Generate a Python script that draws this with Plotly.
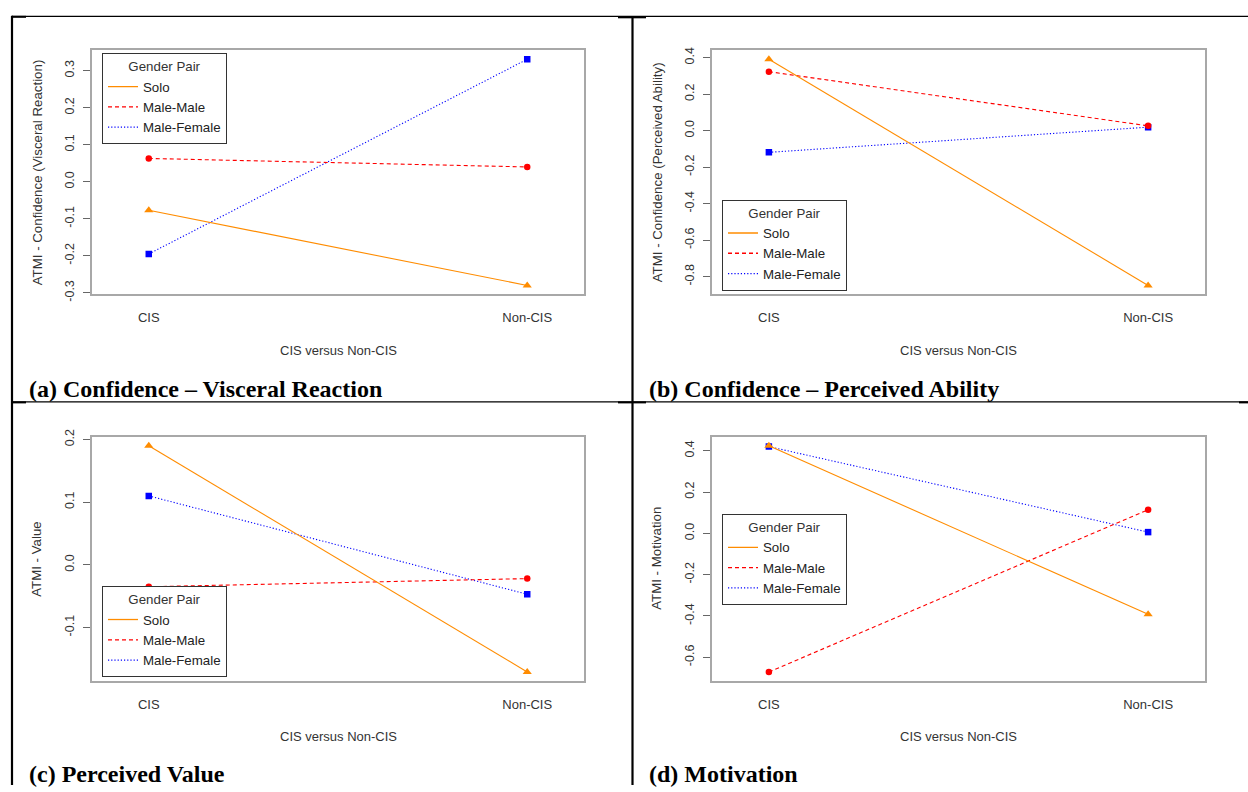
import plotly.graph_objects as go

categories = ["CIS", "Non-CIS"]
groups = ["Solo", "Male-Male", "Male-Female"]

a_solo = [-0.077, -0.280]
a_mm = [0.063, 0.040]
a_mf = [-0.195, 0.331]

b_solo = [0.391, -0.848]
b_mm = [0.323, 0.026]
b_mf = [-0.119, 0.019]

c_solo = [0.190, -0.171]
c_mm = [-0.035, -0.022]
c_mf = [0.110, -0.047]

d_solo = [0.424, -0.392]
d_mm = [-0.671, 0.114]
d_mf = [0.420, 0.006]

a_ticks = ["-0.3", "-0.2", "-0.1", "0.0", "0.1", "0.2", "0.3"]
b_ticks = ["-0.8", "-0.6", "-0.4", "-0.2", "0.0", "0.2", "0.4"]
c_ticks = ["-0.1", "0.0", "0.1", "0.2"]
d_ticks = ["-0.6", "-0.4", "-0.2", "0.0", "0.2", "0.4"]

y_titles = ["ATMI - Confidence (Visceral Reaction)",
            "ATMI - Confidence (Perceived Ability)",
            "ATMI - Value",
            "ATMI - Motivation"]
captions = ["(a) Confidence \u2013 Visceral Reaction",
            "(b) Confidence \u2013 Perceived Ability",
            "(c) Perceived Value",
            "(d) Motivation"]
x_title = "CIS versus Non-CIS"
legend_title = "Gender Pair"

panels = [
    (a_solo, a_mm, a_mf, a_ticks),
    (b_solo, b_mm, b_mf, b_ticks),
    (c_solo, c_mm, c_mf, c_ticks),
    (d_solo, d_mm, d_mf, d_ticks),
]

W, H = 1248, 792
colors = ["#FF8C00", "#FF0000", "#0000FF"]
dashes = ["solid", "4px,3px", "1.2px,2px"]
symbols = ["triangle-up", "circle", "square"]
msizes = [8, 6.5, 6.5]

# pixel layout of plot boxes (left, right, top, bottom)
boxes = [(92, 584, 43, 292), (712, 1205, 43, 292),
         (92, 584, 437, 686), (712, 1205, 437, 686)]
# legend anchor: (left x, y, yanchor)
legend_pos = [(102, 46, "top"), (722, 288, "bottom"),
              (102, 682, "bottom"), (722, 562, "middle")]
caption_pos = [(27, 388), (647, 388), (27, 781), (647, 781)]

def px(x):
    return x / W

def py(y):
    return 1 - y / H

fig = go.Figure()
layout = {}
annotations = []
font_sans = "Liberation Sans, Arial, sans-serif"
font_serif = "Liberation Serif, Times New Roman, serif"

for i, (solo, mm, mf, ticks) in enumerate(panels):
    n = "" if i == 0 else str(i + 1)
    xa, ya = "x" + n, "y" + n
    leg = "legend" if i == 0 else "legend" + str(i + 1)
    series = [solo, mm, mf]
    # draw Male-Female first so Solo / Male-Male points sit on top
    for g in [2, 1, 0]:
        fig.add_trace(go.Scatter(
            x=categories, y=series[g], xaxis=xa, yaxis=ya,
            mode="lines+markers",
            line=dict(color=colors[g], width=1.1, dash=dashes[g]),
            marker=dict(symbol=symbols[g], size=msizes[g], color=colors[g]),
            showlegend=False, hoverinfo="skip"))
    for g in range(3):
        fig.add_trace(go.Scatter(
            x=[None], y=[None], xaxis=xa, yaxis=ya, mode="lines",
            name=groups[g], legend=leg,
            line=dict(color=colors[g], width=1.3, dash=dashes[g])))
    allv = solo + mm + mf
    lo, hi = min(allv), max(allv)
    span = hi - lo
    l, r, t, b = boxes[i]
    tickvals = [float(s) for s in ticks]
    layout["xaxis" + n] = dict(
        domain=[px(l), px(r)], anchor=ya, type="category",
        range=[-0.15, 1.15], showgrid=False, zeroline=False,
        showline=True, mirror=True, linecolor="#a8a8a8", linewidth=2,
        ticks="outside", ticklen=10, tickcolor="rgba(0,0,0,0)",
        tickfont=dict(family=font_sans, size=13, color="#333333"))
    layout["yaxis" + n] = dict(
        domain=[py(b), py(t)], anchor=xa,
        range=[lo - 0.04 * span, hi + 0.04 * span],
        showgrid=False, zeroline=False,
        showline=True, mirror=True, linecolor="#a8a8a8", linewidth=2,
        ticks="outside", ticklen=7, tickcolor="#666666", tickwidth=1,
        tickvals=tickvals, ticktext=ticks, tickangle=-90,
        ticklabelstandoff=4,
        tickfont=dict(family=font_sans, size=12.5, color="#333333"))
    lx, ly, yanc = legend_pos[i]
    layout[leg] = dict(
        x=px(lx), y=py(ly), xanchor="left", yanchor=yanc,
        bgcolor="white", bordercolor="#333333", borderwidth=1,
        title=dict(text=legend_title, side="top center",
                   font=dict(family=font_sans, size=13.3, color="#333333")),
        font=dict(family=font_sans, size=13.3, color="#222222"),
        tracegroupgap=0)
    annotations.append(dict(
        x=px(l - 55), y=py((t + b) / 2), xref="paper", yref="paper",
        text=y_titles[i], textangle=-90, showarrow=False,
        xanchor="center", yanchor="middle",
        font=dict(family=font_sans, size=13.3, color="#333333")))
    annotations.append(dict(
        x=px((l + r) / 2), y=py(b + 57), xref="paper", yref="paper",
        text=x_title, showarrow=False, xanchor="center", yanchor="middle",
        font=dict(family=font_sans, size=13, color="#333333")))
    cx, cy = caption_pos[i]
    annotations.append(dict(
        x=px(cx), y=py(cy), xref="paper", yref="paper",
        text="<b>" + captions[i] + "</b>", showarrow=False,
        xanchor="left", yanchor="middle",
        font=dict(family=font_serif, size=24, color="black")))

shapes = []
def hline(x0, x1, y, w):
    shapes.append(dict(type="line", xref="paper", yref="paper",
                       x0=px(x0), x1=px(x1), y0=py(y), y1=py(y),
                       line=dict(color="black", width=w)))
def vline(x, y0, y1, w):
    shapes.append(dict(type="line", xref="paper", yref="paper",
                       x0=px(x), x1=px(x), y0=py(y0), y1=py(y1),
                       line=dict(color="black", width=w)))

hline(12, 1248, 8.5, 1.3)
hline(12, 26, 9, 2)
hline(618, 646, 9.5, 2)
hline(12, 1248, 401.5, 1.3)
hline(12, 26, 402, 2)
hline(618, 646, 402, 2)
hline(1239, 1248, 402, 2)
vline(12, 8, 792, 2.2)
vline(632.5, 9, 792, 2.2)

fig.update_layout(
    width=W, height=H, margin=dict(l=0, r=0, t=0, b=0),
    paper_bgcolor="white", plot_bgcolor="white",
    annotations=annotations, shapes=shapes, **layout)

fig.write_html("out.html",
               config={"displayModeBar": False},
               post_script="document.body.style.margin='0px';"
                           "document.body.style.overflow='hidden';")
